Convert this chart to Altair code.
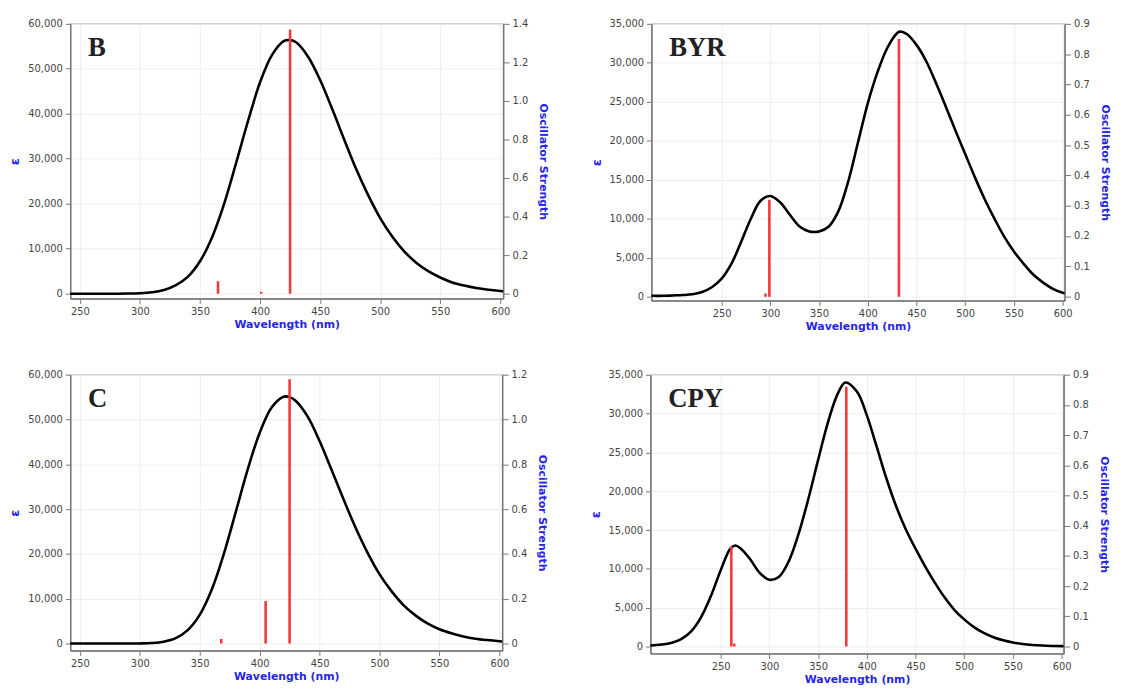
import altair as alt
import pandas as pd

# ---------------- data ----------------
# Panel B
b_wl = [240, 250, 260, 270, 280, 290, 300, 310, 320, 330, 340, 350, 360, 370, 380, 390, 400, 410, 420, 425,
        430, 440, 450, 460, 470, 480, 490, 500, 510, 520, 530, 540, 550, 560, 570, 580, 590, 600, 605]
b_eps = [0, 0, 0, 0, 0, 20, 90, 310, 820, 1900, 3800, 7200, 12500, 19900, 29000, 38400, 47000, 53100, 56200, 56400,
         55900, 52700, 47500, 41100, 34300, 27700, 21900, 16800, 12700, 9400, 6900, 5000, 3600, 2500, 1800, 1250, 870, 600, 500]
b_stick_wl = [365, 401, 425]
b_stick_f = [0.065, 0.01, 1.37]

# Panel C
c_wl = b_wl
c_eps = [0, 0, 0, 0, 0, 5, 30, 120, 420, 1200, 3000, 6400, 12000, 19900, 29300, 38800, 47000, 52700, 55100, 55000,
         54200, 50700, 45200, 38800, 32200, 25900, 20300, 15500, 11700, 8600, 6300, 4500, 3200, 2300, 1600, 1100, 780, 540, 450]
c_stick_wl = [368, 405, 425]
c_stick_f = [0.02, 0.19, 1.18]

# Panel BYR
byr_wl = [175, 180, 190, 200, 210, 220, 230, 240, 250, 260, 270, 280, 290, 300, 310, 320, 330, 340, 345, 350, 360,
          370, 380, 390, 400, 410, 420, 430, 433, 440, 450, 460, 470, 480, 490, 500, 510, 520, 530, 540, 550, 560,
          570, 580, 590, 600, 605]
byr_eps = [100, 100, 100, 150, 200, 300, 600, 1200, 2300, 4200, 7000, 10000, 12300, 12900, 12100, 10500, 9000, 8350,
           8280, 8350, 9000, 11000, 14800, 19800, 24800, 28800, 31900, 33800, 34000, 33700, 32300, 30200, 27400,
           24400, 21300, 18300, 15300, 12500, 10000, 7700, 5800, 4200, 2800, 1800, 1000, 500, 400]
byr_stick_wl = [295, 299, 432]
byr_stick_f = [0.01, 0.32, 0.85]

# Panel CPY
cpy_wl = [175, 180, 190, 200, 210, 220, 230, 240, 250, 260, 265, 270, 280, 290, 300, 310, 320, 330, 340, 350, 360,
          370, 378, 390, 400, 410, 420, 430, 440, 450, 460, 470, 480, 490, 500, 510, 520, 530, 540, 550, 560, 570,
          580, 590, 600, 605]
cpy_eps = [120, 150, 250, 500, 1000, 2000, 3800, 6500, 9800, 12600, 13000, 12700, 11300, 9500, 8600, 9000, 11000,
           14500, 19000, 24000, 28800, 32500, 34000, 32800, 29800, 25800, 21700, 18100, 15100, 12600, 10300, 8200,
           6300, 4700, 3500, 2500, 1750, 1200, 800, 520, 330, 210, 130, 80, 50, 40]
cpy_stick_wl = [261, 264, 379]
cpy_stick_f = [0.33, 0.01, 0.86]

x_ticks = [250, 300, 350, 400, 450, 500, 550, 600]

FONT = "DejaVu Sans"
BLUE = "#2626e6"


def panel(name, wl, eps, swl, sf, xdom, ydom, ytick, fdom, ftick, w, h):
    curve = pd.DataFrame({"wl": wl, "eps": eps})
    sticks = pd.DataFrame({"wl": swl, "f": sf, "zero": [0] * len(swl)})
    xscale = alt.Scale(domain=xdom, nice=False, zero=False)
    xaxis = alt.Axis(values=x_ticks, title="Wavelength (nm)", grid=True, gridColor="#eeeeee",
                     tickSize=5, labelFont=FONT, labelFontSize=10, labelColor="#444",
                     titleFont=FONT, titleFontSize=11, titleFontWeight="bold", titleColor=BLUE,
                     titlePadding=2, domainColor="#777", domainWidth=1.5, tickColor="#777",
                     labelPadding=3)
    line = alt.Chart(curve).mark_line(color="black", strokeWidth=2.6, interpolate="catmull-rom", clip=True).encode(
        x=alt.X("wl:Q", scale=xscale, axis=xaxis),
        y=alt.Y("eps:Q", scale=alt.Scale(domain=ydom, nice=False, zero=False),
                axis=alt.Axis(orient="left", values=ytick, labelExpr="format(datum.value, ',')", title="ε",
                              grid=True, gridColor="#eeeeee", tickSize=5, labelFont=FONT, labelFontSize=10,
                              labelColor="#444", titleFont=FONT, titleFontSize=13, titleFontWeight="bold",
                              titleColor=BLUE, titlePadding=6, domainColor="#777", domainWidth=1.5,
                              tickColor="#777", labelPadding=3)),
    )
    rules = alt.Chart(sticks).mark_rule(color="#f03a3a", strokeWidth=2.6, clip=True).encode(
        x=alt.X("wl:Q", scale=xscale),
        y=alt.Y("f:Q", scale=alt.Scale(domain=fdom, nice=False, zero=False),
                axis=alt.Axis(orient="right", values=ftick, grid=False, title="Oscillator Strength",
                              labelExpr="datum.value == 0 ? '0' : format(datum.value, '.1f')",
                              tickSize=6, labelFont=FONT, labelFontSize=10, labelColor="#444",
                              titleFont=FONT, titleFontSize=11, titleFontWeight="bold", titleColor=BLUE,
                              titlePadding=10, domainColor="#777", domainWidth=1.5, tickColor="#777",
                              labelPadding=3)),
        y2="zero:Q",
    )
    label = alt.Chart(pd.DataFrame({"t": [name]})).mark_text(
        font="Liberation Serif", fontSize=27, fontWeight="bold", color="#222", align="left", baseline="alphabetic"
    ).encode(x=alt.value(18), y=alt.value(33), text="t:N")
    return alt.layer(line, rules, label).resolve_scale(y="independent").properties(width=w, height=h)


pB = panel("B", b_wl, b_eps, b_stick_wl, b_stick_f, [242, 602.4], [-1100, 60000],
           [0, 10000, 20000, 30000, 40000, 50000, 60000], [-0.0256, 1.4], [0, 0.2, 0.4, 0.6, 0.8, 1.0, 1.2, 1.4],
           438, 278)
pBYR = panel("BYR", byr_wl, byr_eps, byr_stick_wl, byr_stick_f, [178, 602], [-510, 35000],
             [0, 5000, 10000, 15000, 20000, 25000, 30000, 35000], [-0.013, 0.9],
             [0, 0.1, 0.2, 0.3, 0.4, 0.5, 0.6, 0.7, 0.8, 0.9], 418, 280)
pC = panel("C", c_wl, c_eps, c_stick_wl, c_stick_f, [242, 602.4], [-1540, 60000],
           [0, 10000, 20000, 30000, 40000, 50000, 60000], [-0.031, 1.2], [0, 0.2, 0.4, 0.6, 0.8, 1.0, 1.2],
           437, 279)
pCPY = panel("CPY", cpy_wl, cpy_eps, cpy_stick_wl, cpy_stick_f, [178, 602], [-890, 35000],
             [0, 5000, 10000, 15000, 20000, 25000, 30000, 35000], [-0.023, 0.9],
             [0, 0.1, 0.2, 0.3, 0.4, 0.5, 0.6, 0.7, 0.8, 0.9], 418, 282)

chart = alt.vconcat(
    alt.hconcat(pB, pBYR, spacing=40),
    alt.hconcat(pC, pCPY, spacing=40),
    spacing=37,
).properties(
    padding={"left": 0, "top": 6, "right": 5, "bottom": 5},
    background="white",
).configure_view(stroke="#999", strokeWidth=1.2)

chart.save("out.html", embed_options={"renderer": "svg", "actions": False})
